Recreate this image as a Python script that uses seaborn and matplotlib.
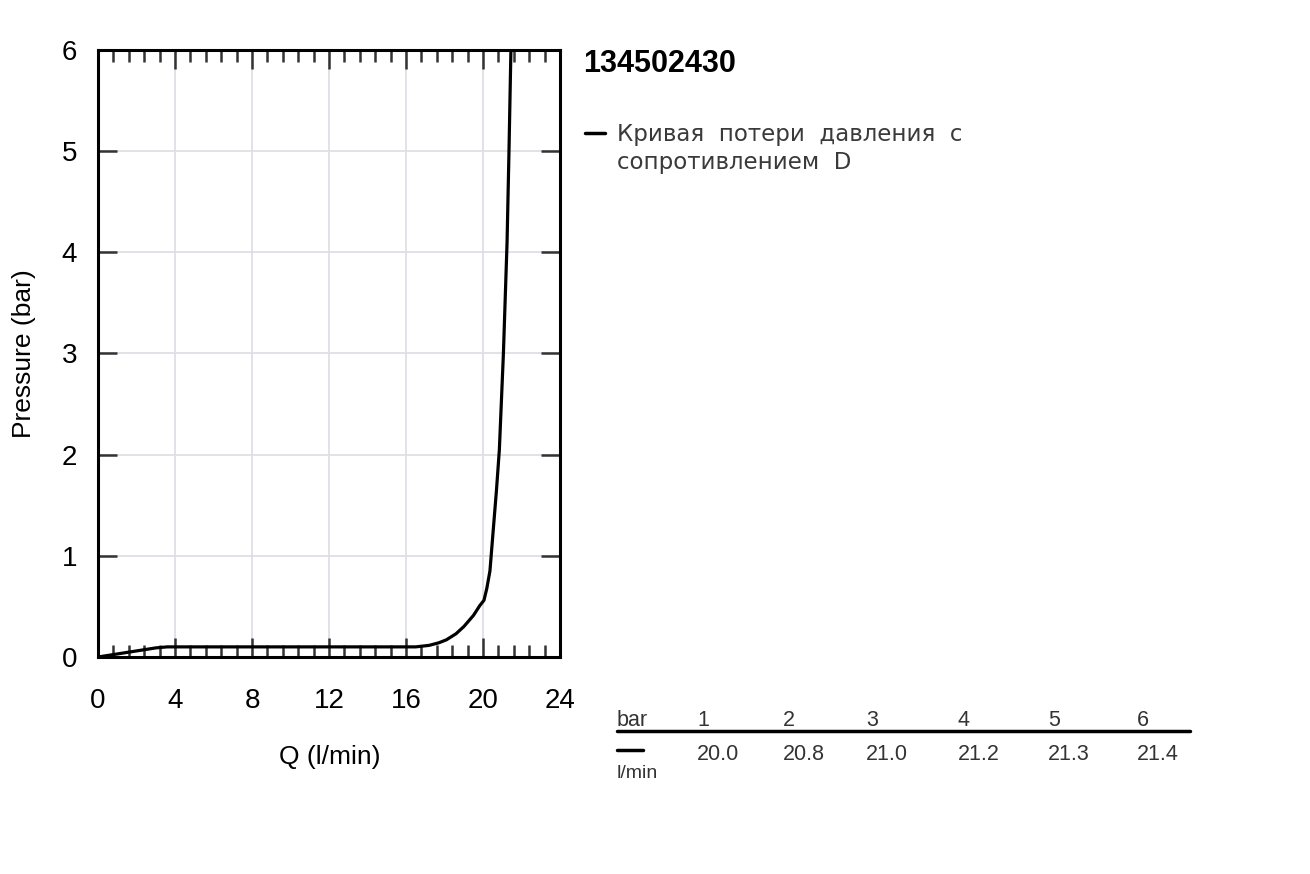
import pandas as pd
import seaborn as sns
import matplotlib.pyplot as plt
from matplotlib.ticker import MultipleLocator

# curve
flow = [0, 1, 2, 3, 3.6, 8, 12, 16.5, 17.2, 17.7, 18.1, 18.6, 19.0, 19.5,
        19.84, 20.05, 20.2, 20.36, 20.53, 20.7, 20.85, 21.06, 21.25, 21.35,
        21.45]
pressure = [0, 0.03, 0.06, 0.09, 0.1, 0.1, 0.1, 0.1, 0.115, 0.14, 0.17,
            0.23, 0.30, 0.41, 0.51, 0.56, 0.68, 0.85, 1.25, 1.65, 2.05, 3.0,
            4.1, 5.0, 6.0]

table_bar = ['1', '2', '3', '4', '5', '6']
table_flow = ['20.0', '20.8', '21.0', '21.2', '21.3', '21.4']
table_x = [697, 783, 866, 958, 1048, 1137]

title = '134502430'
legend_lines = ['Кривая  потери  давления  с', 'сопротивлением  D']


def main():
    sns.set_style('white')
    plt.rcParams['font.family'] = ['Liberation Sans', 'DejaVu Sans']

    W, H = 1310, 874
    fig = plt.figure(figsize=(W / 100, H / 100), dpi=100)
    ax = fig.add_axes([98 / W, 1 - 657 / H, (560 - 98) / W, (657 - 50) / H])

    df = pd.DataFrame({'Q': flow, 'P': pressure})
    sns.lineplot(data=df, x='Q', y='P', ax=ax, color='black', lw=2.3,
                 sort=False)

    ax.set_xlim(0, 24)
    ax.set_ylim(0, 6)
    ax.xaxis.set_major_locator(MultipleLocator(4))
    ax.xaxis.set_minor_locator(MultipleLocator(0.8))
    ax.yaxis.set_major_locator(MultipleLocator(1))
    ax.grid(True, which='major', color='#dedee6', lw=1.3)
    ax.set_axisbelow(True)
    for s in ax.spines.values():
        s.set_visible(True)
        s.set_color('black')
        s.set_linewidth(2.2)
    ax.tick_params(axis='x', which='major', direction='in', length=14,
                   width=1.8, top=True, bottom=True, pad=22, labelsize=20,
                   color='#333333', labelcolor='black')
    ax.tick_params(axis='x', which='minor', direction='in', length=8.5,
                   width=1.8, top=True, bottom=True, color='#333333')
    ax.tick_params(axis='y', which='major', direction='in', length=14,
                   width=1.8, left=True, right=True, pad=15, labelsize=20,
                   color='#333333', labelcolor='black')
    ax.set_xlabel('Q (l/min)', fontsize=19, va='center', color='black')
    ax.set_ylabel('Pressure (bar)', fontsize=19, va='center', color='black')
    ax.xaxis.set_label_coords(0.502, -0.1647)
    ax.yaxis.set_label_coords(-0.16, 0.5)

    def fx(px):
        return px / W

    def fy(py):
        return 1 - py / H

    fig.text(fx(583), fy(64), title, fontsize=22, fontweight='bold',
             va='center', ha='left', color='black')

    fig.add_artist(plt.Line2D([fx(585), fx(605)], [fy(133), fy(133)],
                              color='black', lw=2.5))
    fig.text(fx(617), fy(134), legend_lines[0], fontsize=16.5,
             family='DejaVu Sans', color='#3a3a3a', va='center')
    fig.text(fx(617), fy(163), legend_lines[1], fontsize=16.5,
             family='DejaVu Sans', color='#3a3a3a', va='center')

    fig.text(fx(617), fy(721), 'bar', fontsize=15.5, va='center',
             color='#333333')
    for x, b, q in zip(table_x, table_bar, table_flow):
        fig.text(fx(x), fy(721), b, fontsize=15.5, va='center', ha='left',
                 color='#333333')
        fig.text(fx(x), fy(754), q, fontsize=15.5, va='center', ha='left',
                 color='#333333')
    fig.add_artist(plt.Line2D([fx(617), fx(1190)], [fy(731), fy(731)],
                              color='black', lw=2.5))
    fig.add_artist(plt.Line2D([fx(617), fx(643)], [fy(750), fy(750)],
                              color='black', lw=2.5))
    fig.text(fx(617), fy(774), 'l/min', fontsize=14, va='center',
             color='#333333')

    fig.savefig('out.png', dpi=100)


if __name__ == '__main__':
    main()
